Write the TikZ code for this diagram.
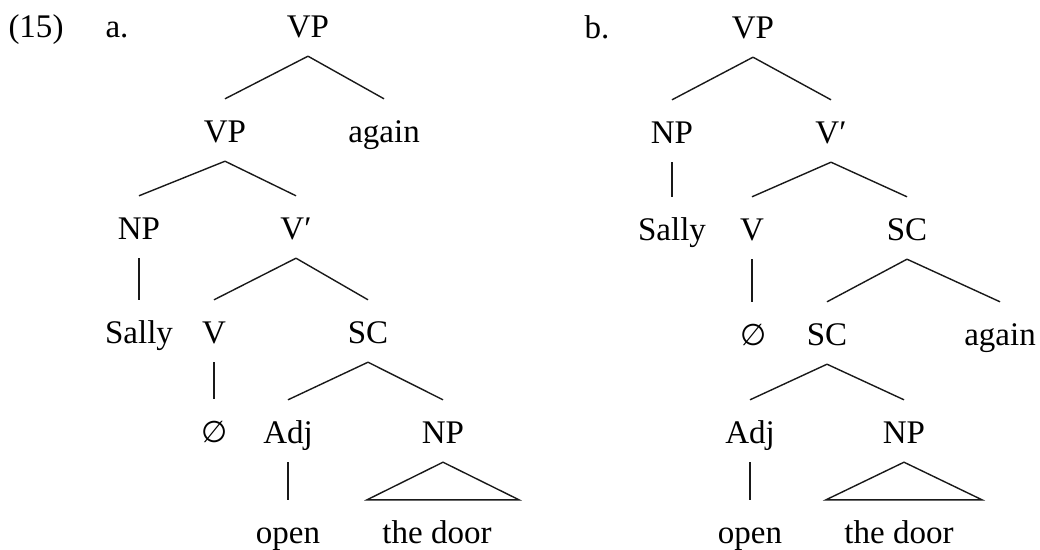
\documentclass[tikz,border=0pt]{standalone}
\usepackage{fontspec}
\setmainfont{Liberation Serif}
\newfontfamily\symbfont{DejaVu Sans}
\usetikzlibrary{calc}
\tikzset{
  lab/.style={anchor=base, inner sep=0pt, font=\fontsize{33}{39}\selectfont},
  tn/.style={anchor=base, inner sep=0pt, text height=43pt, text depth=19pt, font=\fontsize{33}{39}\selectfont},
  edge/.style={line width=1.4pt, black!90}
}
\newcommand{\emptysym}{{\symbfont\fontsize{30}{36}\selectfont ∅}}
\begin{document}
\begin{tikzpicture}[x=1pt,y=-1pt]
\useasboundingbox[fill=white] (0,0) rectangle (1040,549);
% labels
\node[lab] (n15) at (36,37) {(15)};
\node[lab] (la) at (117,37) {a.};
\node[lab] (lb) at (597,38) {b.};
% tree a
\node[tn] (aVP) at (308,37) {VP};
\node[tn] (aVPb) at (225,142) {VP};
\node[tn] (aAgain) at (384,142) {again};
\node[tn] (aNP) at (139,239) {NP};
\node[tn] (aVbar) at (296,239) {V′};
\node[tn] (aSally) at (139,343) {Sally};
\node[tn] (aV) at (214,343) {V};
\node[tn] (aSC) at (368,343) {SC};
\node[tn] (aEmpty) at (215,442) {\emptysym};
\node[tn] (aAdj) at (288,443) {Adj};
\node[tn] (aNPb) at (443,443) {NP};
\node[tn] (aOpen) at (288,543) {open};
\node[tn] (aDoor) at (437,543) {the door};
\draw[edge] (aVP.south) -- (aVPb.north);
\draw[edge] (aVP.south) -- (aAgain.north);
\draw[edge] (aVPb.south) -- (aNP.north);
\draw[edge] (aVPb.south) -- (aVbar.north);
\draw[edge] (aNP.south) -- (aSally.north);
\draw[edge] (aVbar.south) -- (aV.north);
\draw[edge] (aVbar.south) -- (aSC.north);
\draw[edge] (aV.south) -- (aV.south |- aEmpty.north);
\draw[edge] (aSC.south) -- (aAdj.north);
\draw[edge] (aSC.south) -- (aNPb.north);
\draw[edge] (aAdj.south) -- (aOpen.north);
\coordinate (aTb) at (aNPb.south |- aDoor.north);
\draw[edge, line join=miter] (aNPb.south) -- ([xshift=-76pt]aTb) -- ([xshift=76pt]aTb) -- cycle;
% tree b
\node[tn] (bVP) at (753,38) {VP};
\node[tn] (bNP) at (672,143) {NP};
\node[tn] (bVbar) at (831,143) {V′};
\node[tn] (bSally) at (672,240) {Sally};
\node[tn] (bV) at (752,240) {V};
\node[tn] (bSC) at (907,240) {SC};
\node[tn] (bEmpty) at (754,345) {\emptysym};
\node[tn] (bSCb) at (827,345) {SC};
\node[tn] (bAgain) at (1000,345) {again};
\node[tn] (bAdj) at (750,443) {Adj};
\node[tn] (bNPb) at (904,443) {NP};
\node[tn] (bOpen) at (750,543) {open};
\node[tn] (bDoor) at (899,543) {the door};
\draw[edge] (bVP.south) -- (bNP.north);
\draw[edge] (bVP.south) -- (bVbar.north);
\draw[edge] (bNP.south) -- (bSally.north);
\draw[edge] (bVbar.south) -- (bV.north);
\draw[edge] (bVbar.south) -- (bSC.north);
\draw[edge] (bV.south) -- (bV.south |- bEmpty.north);
\draw[edge] (bSC.south) -- (bSCb.north);
\draw[edge] (bSC.south) -- (bAgain.north);
\draw[edge] (bSCb.south) -- (bAdj.north);
\draw[edge] (bSCb.south) -- (bNPb.north);
\draw[edge] (bAdj.south) -- (bOpen.north);
\coordinate (bTb) at (bNPb.south |- bDoor.north);
\draw[edge, line join=miter] (bNPb.south) -- ([xshift=-78pt]bTb) -- ([xshift=78pt]bTb) -- cycle;
\end{tikzpicture}
\end{document}
